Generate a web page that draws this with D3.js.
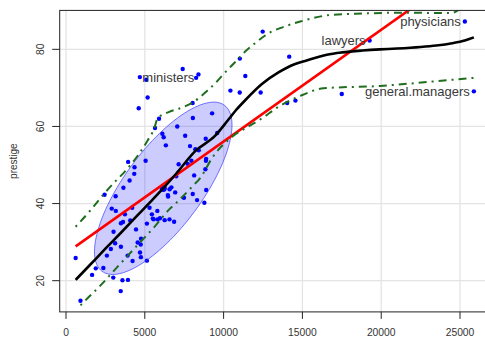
<!DOCTYPE html>
<html><head><meta charset="utf-8">
<script src="https://cdn.jsdelivr.net/npm/d3@7"></script>
<style>
html,body{margin:0;padding:0;background:#fff;}
svg{display:block;font-family:"Liberation Sans",Arial,sans-serif;}
</style></head>
<body><svg id="chart" width="485" height="337"></svg>
<script>
// Prestige data: income (x) and prestige (y), one entry per occupation
const occupations = ["gov.administrators","general.managers","accountants","purchasing.officers","chemists","physicists","biologists","architects","civil.engineers","mining.engineers","surveyors","draughtsmen","computer.programers","economists","psychologists","social.workers","lawyers","librarians","vocational.counsellors","ministers","university.teachers","primary.school.teachers","secondary.school.teachers","physicians","veterinarians","osteopaths.chiropractors","nurses","nursing.aides","physio.therapsts","pharmacists","medical.technicians","commercial.artists","radio.tv.announcers","athletes","secretaries","typists","bookkeepers","tellers.cashiers","computer.operators","shipping.clerks","file.clerks","receptionsts","mail.carriers","postal.clerks","telephone.operators","collectors","claim.adjustors","travel.clerks","office.clerks","sales.supervisors","commercial.travellers","sales.clerks","newsboys","service.station.attendant","insurance.agents","real.estate.salesmen","buyers","firefighters","policemen","cooks","bartenders","funeral.directors","babysitters","launderers","janitors","elevator.operators","farmers","farm.workers","rotary.well.drillers","bakers","slaughterers.1","slaughterers.2","canners","textile.weavers","textile.labourers","tool.die.makers","machinists","sheet.metal.workers","welders","auto.workers","aircraft.workers","electronic.workers","radio.tv.repairmen","sewing.mach.operators","auto.repairmen","aircraft.repairmen","railway.sectionmen","electrical.linemen","electricians","construction.foremen","carpenters","masons","house.painters","plumbers","construction.labourers","pilots","train.engineers","bus.drivers","taxi.drivers","longshoremen","typesetters","bookbinders"];
const income = [12351,25879,9271,8865,8403,11030,8258,14163,11377,11023,5902,7059,8425,8049,7405,6336,19263,6112,9593,4686,12480,5648,8034,25308,14558,17498,4614,3485,5092,10432,5180,6197,7562,8206,4036,3148,4348,2448,4330,4761,3016,2901,5511,3739,3161,4741,5052,6259,4075,7482,8780,2594,918,2370,8131,6992,7956,8895,8891,3116,3930,7869,611,3000,3472,3582,3643,1656,6860,4199,5134,5134,1890,4443,3485,8043,6686,6565,6477,5811,6573,3942,5449,2847,5795,7716,4696,8316,7147,8880,5299,5959,4549,6928,3910,14032,8845,5562,4224,4753,6462,3617];
const prestige = [68.8,69.1,63.4,56.8,73.5,77.6,72.6,78.1,73.1,68.8,62.0,60.0,53.8,62.2,74.9,55.1,82.3,58.1,58.3,72.8,84.6,59.6,66.1,87.2,66.7,68.4,64.7,34.9,72.1,69.3,67.5,57.2,57.6,54.1,46.0,41.9,49.4,42.3,47.7,30.9,32.7,38.7,36.1,37.2,38.1,29.4,51.1,35.7,35.6,41.5,40.2,26.5,14.8,23.3,47.3,47.1,51.1,43.5,51.6,29.7,20.2,54.9,25.9,20.8,17.3,20.1,44.1,21.5,35.3,38.9,25.2,34.8,23.2,33.3,28.8,42.5,44.2,35.9,41.8,35.9,43.7,50.8,37.2,28.2,38.1,50.3,27.3,40.9,50.2,51.1,38.9,36.2,29.9,42.9,26.5,66.1,48.9,35.9,25.1,26.1,42.2,35.2];

// labelled points and which side the label sits on
const labelNames = ["ministers","lawyers","physicians","general.managers"];
const labelSides = ["right","left","left","left"];

// loess smoother
const smoothX = [611,1500,2500,3500,4500,5280,6000,7000,8200,9466,10310,10780,11370,12430,13480,14540,15175,16550,17500,18800,19930,21000,22500,23500,24500,25300,25879];
const smoothY = [20.2,24.0,28.3,32.5,36.8,40.1,43.2,47.8,53.6,57.6,61.8,64.2,66.8,71.0,74.0,76.2,77.0,78.6,79.2,79.7,80.0,80.2,80.6,81.0,81.6,82.3,83.1];

// conditional spread lines
const upperX = [611,1500,2300,3000,3800,4650,5200,5600,5800,6550,7300,8030,9000,9466,10000,10945,11262,12000,12955,13590,14860,16760,18870,21400,24400,25308];
const upperY = [34.0,38.0,42.0,45.2,48.6,53.0,56.5,59.5,62.0,63.8,64.8,66.2,69.4,71.2,73.6,77.6,79.0,81.6,84.4,85.5,87.2,88.9,89.3,89.5,89.4,91.5];
const lowerX = [918,1160,2220,3380,4440,5705,6550,6975,8030,8515,9300,10525,11370,12430,13480,14965,16335,19930,23100,25879];
const lowerY = [13.6,14.6,18.9,24.1,28.8,34.4,38.5,40.1,44.5,46.6,52.0,57.3,59.5,62.1,65.1,68.1,69.9,70.5,71.6,72.6];

// robust data ellipse: centre, half-extents, correlation
const ellipseCenter = [6170, 43.96];
const ellipseHalf = [4363, 22.35];
const ellipseCorr = 0.735;

const xTicks = [0,5000,10000,15000,20000,25000];
const yTicks = [20,40,60,80];
const yTitle = "prestige";

const svg = d3.select("#chart");
const x = d3.scaleLinear().domain([-400, 26890]).range([59.7, 489.8]);
const y = d3.scaleLinear().domain([11.904, 90.096]).range([311.9, 10.4]);
const [x0, x1] = x.range(), [y0, y1] = y.range();

svg.append("defs").append("clipPath").attr("id","clip")
  .append("rect").attr("x",x0).attr("y",y1).attr("width",x1-x0).attr("height",y0-y1);

// grid
const grid = svg.append("g");
grid.selectAll(".gx").data(xTicks).join("line")
  .attr("x1",d=>x(d)).attr("x2",d=>x(d)).attr("y1",y0).attr("y2",y1)
  .attr("stroke","#e4e4e4").attr("stroke-width",1.3);
grid.selectAll(".gy").data(yTicks).join("line")
  .attr("x1",x0).attr("x2",x1).attr("y1",d=>y(d)).attr("y2",d=>y(d))
  .attr("stroke","#e4e4e4").attr("stroke-width",1.3);

const plot = svg.append("g").attr("clip-path","url(#clip)");

// points
const pts = income.map((v,i)=>({x:v, y:prestige[i], name:occupations[i]}));
plot.selectAll("circle.pt").data(pts).join("circle").attr("class","pt")
  .attr("cx",d=>x(d.x)).attr("cy",d=>y(d.y)).attr("r",2.2).attr("fill","#0000ff");

// ellipse
const ell = d3.range(0, 361, 3).map(a=>{
  const t = a*Math.PI/180;
  return [ellipseCenter[0] + ellipseHalf[0]*Math.cos(t),
          ellipseCenter[1] + ellipseHalf[1]*(ellipseCorr*Math.cos(t) + Math.sqrt(1-ellipseCorr*ellipseCorr)*Math.sin(t))];
});
plot.append("path").datum(ell)
  .attr("d", d3.line().x(d=>x(d[0])).y(d=>y(d[1])).curve(d3.curveLinearClosed))
  .attr("fill","rgba(0,0,255,0.2)").attr("stroke","rgba(60,60,255,0.7)").attr("stroke-width",1);
plot.append("circle").attr("cx",x(ellipseCenter[0])).attr("cy",y(ellipseCenter[1])).attr("r",3.6).attr("fill","#0000ff");

// least squares line
const mx = d3.mean(income), my = d3.mean(prestige);
const b = d3.sum(income.map((v,i)=>(v-mx)*(prestige[i]-my))) / d3.sum(income.map(v=>(v-mx)*(v-mx)));
const a0 = my - b*mx;
const xmin = d3.min(income), xmax = d3.max(income);
plot.append("line").attr("x1",x(xmin)).attr("y1",y(a0+b*xmin)).attr("x2",x(xmax)).attr("y2",y(a0+b*xmax))
  .attr("stroke","#ff0000").attr("stroke-width",2.6);

const ln = d3.line().x(d=>x(d[0])).y(d=>y(d[1])).curve(d3.curveMonotoneX);
plot.append("path").datum(smoothX.map((v,i)=>[v,smoothY[i]])).attr("d",ln)
  .attr("fill","none").attr("stroke","#000").attr("stroke-width",2.6);
[[upperX,upperY],[lowerX,lowerY]].forEach(([xs,ys])=>{
  plot.append("path").datum(xs.map((v,i)=>[v,ys[i]])).attr("d",ln)
    .attr("fill","none").attr("stroke","#1e6e1e").attr("stroke-width",2)
    .attr("stroke-dasharray","2,5,8,5");
});

// point labels
labelNames.forEach((n,k)=>{
  const p = pts.find(d=>d.name===n);
  const right = labelSides[k]==="right";
  svg.append("text").attr("x", x(p.x) + (right?2.5:-4)).attr("y", y(p.y)).attr("dy","0.36em")
    .attr("text-anchor", right?"start":"end").attr("font-size",13).attr("fill","#3a3a3a").text(n);
});

// box
svg.append("rect").attr("x",x0).attr("y",y1).attr("width",x1-x0).attr("height",y0-y1)
  .attr("fill","none").attr("stroke","#222").attr("stroke-width",1);

// axes
const ax = svg.append("g");
ax.selectAll(".tx").data(xTicks).join("line").attr("x1",d=>x(d)).attr("x2",d=>x(d)).attr("y1",y0).attr("y2",y0+7)
  .attr("stroke","#222");
ax.selectAll(".lx").data(xTicks).join("text").attr("x",d=>x(d)).attr("y",335.5).attr("text-anchor","middle")
  .attr("font-size",10.3).attr("fill","#333").text(d=>d);
ax.selectAll(".ty").data(yTicks).join("line").attr("x1",x0-7.5).attr("x2",x0).attr("y1",d=>y(d)).attr("y2",d=>y(d))
  .attr("stroke","#222");
ax.selectAll(".ly").data(yTicks).join("text")
  .attr("transform",d=>`translate(44,${y(d)}) rotate(-90)`).attr("text-anchor","middle")
  .attr("font-size",10.3).attr("fill","#333").text(d=>d);
svg.append("text").attr("transform",`translate(17,${(y0+y1)/2}) rotate(-90)`).attr("text-anchor","middle")
  .attr("font-size",10).attr("fill","#333").text(yTitle);
</script></body></html>
